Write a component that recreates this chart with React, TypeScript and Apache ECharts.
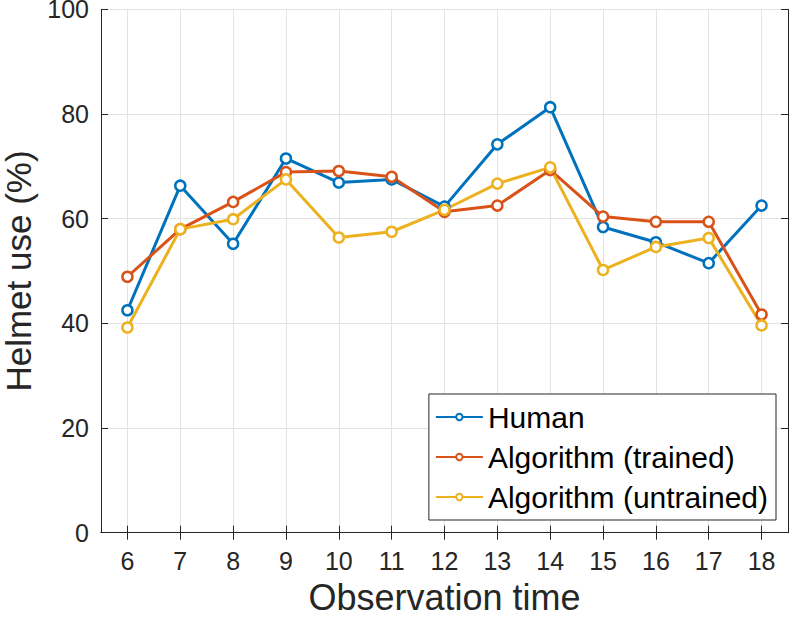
import React, { useEffect, useRef } from "react";
import * as echarts from "echarts";

const categories = ["6", "7", "8", "9", "10", "11", "12", "13", "14", "15", "16", "17", "18"];
const human = [42.5, 66.3, 55.2, 71.5, 66.9, 67.5, 62.3, 74.2, 81.3, 58.4, 55.5, 51.5, 62.5];
const trained = [48.9, 58.0, 63.2, 68.9, 69.1, 68.0, 61.3, 62.5, 69.3, 60.4, 59.4, 59.4, 41.7];
const untrained = [39.2, 58.0, 59.9, 67.5, 56.4, 57.5, 61.7, 66.7, 69.8, 50.2, 54.6, 56.3, 39.6];
const seriesNames = ["Human", "Algorithm (trained)", "Algorithm (untrained)"];
const colors = ["#0072BD", "#D95319", "#EDB120"];

const FONT = "'Liberation Sans', Arial, Helvetica, sans-serif";
const TXT = "#262626";
const AX = "#262626";
const GRID = "#e3e3e3";

export default function App() {
  const ref = useRef<HTMLDivElement>(null);
  useEffect(() => {
    if (!ref.current) return;
    const chart = echarts.init(ref.current, undefined, { renderer: "svg" });
    const mk = (name: string, data: number[], color: string) => ({
      name,
      type: "line",
      data,
      xAxisIndex: 0,
      yAxisIndex: 0,
      symbol: "circle",
      symbolSize: 10,
      showSymbol: true,
      color,
      lineStyle: { color, width: 3 },
      itemStyle: { color: "#ffffff", borderColor: color, borderWidth: 2.5 },
    });
    chart.setOption({
      animation: false,
      backgroundColor: "#ffffff",
      textStyle: { fontFamily: FONT, color: TXT },
      grid: {
        left: 101,
        right: 1,
        top: 9.3,
        bottom: 84.3,
        containLabel: false,
        outerBoundsMode: "none",
      },
      xAxis: [
        {
          type: "category",
          data: categories,
          boundaryGap: true,
          position: "bottom",
          name: "Observation time",
          nameLocation: "middle",
          nameGap: 47,
          nameTextStyle: { fontSize: 36, color: TXT, fontFamily: FONT },
          axisLine: { show: true, lineStyle: { color: AX, width: 1 } },
          axisTick: { show: true, inside: true, length: 7, alignWithLabel: true, lineStyle: { color: AX } },
          axisLabel: { fontSize: 25, color: TXT, margin: 16, fontFamily: FONT },
          splitLine: { show: true, alignWithLabel: true, lineStyle: { color: GRID, width: 1 } },
        },
        {
          type: "category",
          data: categories,
          boundaryGap: true,
          position: "top",
          axisLine: { show: true, lineStyle: { color: AX, width: 1 } },
          axisTick: { show: true, inside: true, length: 7, alignWithLabel: true, lineStyle: { color: AX } },
          axisLabel: { show: false },
          splitLine: { show: false },
        },
      ],
      yAxis: [
        {
          type: "value",
          min: 0,
          max: 100,
          interval: 20,
          position: "left",
          name: "Helmet use (%)",
          nameLocation: "middle",
          nameGap: 63,
          nameTextStyle: { fontSize: 35, color: TXT, fontFamily: FONT },
          axisLine: { show: true, lineStyle: { color: AX, width: 1 } },
          axisTick: { show: true, inside: true, length: 7, lineStyle: { color: AX } },
          axisLabel: { fontSize: 25, lineHeight: 18, color: TXT, margin: 12, fontFamily: FONT },
          splitLine: { show: true, lineStyle: { color: GRID, width: 1 } },
        },
        {
          type: "value",
          min: 0,
          max: 100,
          interval: 20,
          position: "right",
          axisLine: { show: true, lineStyle: { color: AX, width: 1 } },
          axisTick: { show: true, inside: true, length: 7, lineStyle: { color: AX } },
          axisLabel: { show: false },
          splitLine: { show: false },
        },
      ],
      legend: {
        show: true,
        orient: "vertical",
        right: 13,
        bottom: 97,
        data: seriesNames,
        backgroundColor: "#ffffff",
        borderColor: AX,
        borderWidth: 1,
        borderRadius: 0,
        padding: [8, 8, 8, 6],
        itemGap: 10,
        itemWidth: 47,
        itemHeight: 8,
        textStyle: { fontSize: 30, color: "#000000", fontFamily: FONT },
      },
      series: [
        mk(seriesNames[0], human, colors[0]),
        mk(seriesNames[1], trained, colors[1]),
        mk(seriesNames[2], untrained, colors[2]),
      ],
    });
    return () => chart.dispose();
  }, []);
  return (
    <div
      ref={ref}
      style={{ position: "fixed", left: 0, top: 0, width: 789, height: 617, background: "#fff" }}
    />
  );
}
